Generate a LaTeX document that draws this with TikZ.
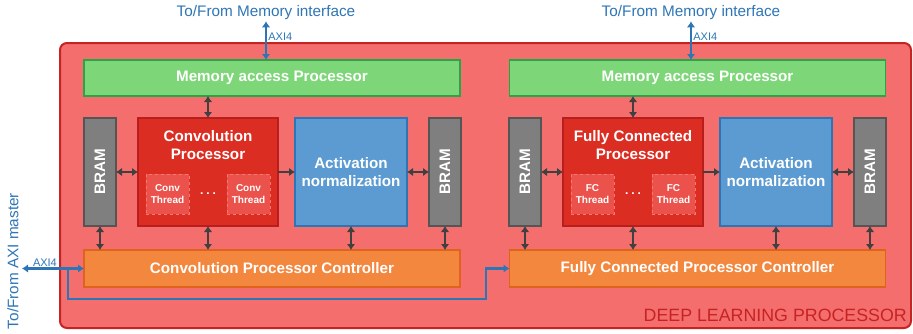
\documentclass[tikz,border=0pt]{standalone}
\usepackage{fontspec}
\setmainfont{Liberation Sans}
\usetikzlibrary{arrows.meta,positioning,calc}

\definecolor{dlpfill}{RGB}{244,110,110}
\definecolor{dlpline}{RGB}{200,35,35}
\definecolor{memfill}{RGB}{125,215,120}
\definecolor{memline}{RGB}{40,165,70}
\definecolor{bramfill}{RGB}{127,127,127}
\definecolor{bramline}{RGB}{85,85,85}
\definecolor{procfill}{RGB}{220,45,35}
\definecolor{procline}{RGB}{185,30,30}
\definecolor{thrfill}{RGB}{235,82,76}
\definecolor{thrline}{RGB}{248,120,115}
\definecolor{actfill}{RGB}{91,155,210}
\definecolor{actline}{RGB}{46,117,182}
\definecolor{ctrlfill}{RGB}{244,135,62}
\definecolor{ctrlline}{RGB}{222,100,30}
\definecolor{axiblue}{RGB}{46,117,182}
\definecolor{linkgray}{RGB}{64,64,64}

\tikzset{
  box/.style={draw, line width=1.6pt, inner sep=0pt, outer sep=0pt, text=white,
    font=\fontsize{15.2}{18}\selectfont\bfseries, align=center},
  mem/.style={box, fill=memfill, draw=memline, minimum width=376pt, minimum height=36pt},
  bram/.style={box, fill=bramfill, draw=bramline, minimum width=32pt, minimum height=108pt},
  proc/.style={box, fill=procfill, draw=procline, minimum width=140pt, minimum height=108pt},
  act/.style={box, fill=actfill, draw=actline, minimum width=112pt, minimum height=108pt},
  ctrl/.style={box, fill=ctrlfill, draw=ctrlline, minimum width=376pt, minimum height=37pt},
  thread/.style={box, fill=thrfill, draw=thrline, dashed, line width=0.9pt,
    minimum width=43pt, minimum height=40pt, font=\fontsize{10}{12.5}\selectfont\bfseries},
  ptitle/.style={text=white, inner sep=0pt, align=center,
    font=\fontsize{15.2}{18}\selectfont\bfseries},
  dots/.style={text=white, inner sep=0pt, font=\fontsize{12}{14}\selectfont\bfseries},
  link/.style={draw=linkgray, line width=2.8pt,
    {Latex[length=6pt,width=8.5pt]}-{Latex[length=6pt,width=8.5pt]}},
  axi/.style={draw=axiblue, line width=2.8pt,
    {Latex[length=6pt,width=8.5pt]}-{Latex[length=6pt,width=8.5pt]}},
  axitext/.style={text=axiblue, inner sep=1pt, font=\fontsize{15.3}{17}\selectfont},
  axismall/.style={text=axiblue, inner sep=1pt, font=\fontsize{11}{13}\selectfont},
}

\begin{document}
\begin{tikzpicture}[x=1pt, y=-1pt]
  \useasboundingbox (0,0) rectangle (913,333);

  % deep learning processor
  \node[draw=dlpline, fill=dlpfill, line width=2pt, rounded corners=7pt,
        minimum width=851pt, minimum height=285pt] (dlp) at (485.5,185.5) {};
  \node[above left=7pt and 5pt of dlp.south east, inner sep=0pt, text=dlpline,
        font=\fontsize{17.8}{20}\selectfont] (dlplabel) {DEEP LEARNING PROCESSOR};

  % convolution part
  \node[mem] (memL) at (272,78) {Memory access Processor};
  \node[bram] (bramL) at (100,172) {\rotatebox{90}{BRAM}};
  \node[proc, right=22pt of bramL] (convL) {};
  \node[ptitle, below=12pt of convL.north] (convLt) {Convolution\\Processor};
  \node[thread, above right=12pt and 8pt of convL.south west] (thL1) {Conv\\Thread};
  \node[thread, above left=12pt and 8pt of convL.south east] (thL2) {Conv\\Thread};
  \node[dots] (dotsL) at ($(thL1.east)!0.5!(thL2.west)$) {.\hspace{3pt}.\hspace{3pt}.};
  \node[act, right=17pt of convL] (actL) {Activation\\normalization};
  \node[bram, right=22pt of actL] (bramL2) {\rotatebox{90}{BRAM}};
  \node[ctrl] (ctrlL) at (272,268.5) {Convolution Processor Controller};

  % fully connected part
  \node[mem] (memR) at (697.5,78) {Memory access Processor};
  \node[bram] (bramR) at (525,172) {\rotatebox{90}{BRAM}};
  \node[proc, right=22pt of bramR] (fcR) {};
  \node[ptitle, below=12pt of fcR.north] (fcRt) {Fully Connected\\Processor};
  \node[thread, above right=12pt and 8pt of fcR.south west] (thR1) {FC\\Thread};
  \node[thread, above left=12pt and 8pt of fcR.south east] (thR2) {FC\\Thread};
  \node[dots] (dotsR) at ($(thR1.east)!0.5!(thR2.west)$) {.\hspace{3pt}.\hspace{3pt}.};
  \node[act, right=17pt of fcR] (actR) {Activation\\normalization};
  \node[bram, right=22pt of actR] (bramR2) {\rotatebox{90}{BRAM}};
  \node[ctrl] (ctrlR) at (697.5,268.5) {Fully Connected Processor Controller};

  % internal links
  \draw[link] (convL.north) -- (convL.north |- memL.south);
  \draw[link] (fcR.north) -- (fcR.north |- memR.south);
  \foreach \a/\b in {bramL/convL, actL/bramL2, bramR/fcR, actR/bramR2}
    \draw[link] (\a.east) -- (\b.west);
  \draw[link, -{Latex[length=6pt,width=8.5pt]}] (convL.east) -- (actL.west);
  \draw[link, -{Latex[length=6pt,width=8.5pt]}] (fcR.east) -- (actR.west);
  \foreach \a in {bramL, convL, actL, bramL2}
    \draw[link] (\a.south) -- (\a.south |- ctrlL.north);
  \foreach \a in {bramR, fcR, actR, bramR2}
    \draw[link] (\a.south) -- (\a.south |- ctrlR.north);

  % AXI4 interfaces
  \node[axitext] (memifL) at (266,13) {To/From Memory interface};
  \node[axitext] (memifR) at (691,13) {To/From Memory interface};
  \draw[axi] (memifL.south) -- (memifL.south |- memL.north) node[pos=0.4, right, axismall] {AXI4};
  \draw[axi] (memifR.south) -- (memifR.south |- memR.north) node[pos=0.4, right, axismall] {AXI4};

  \node[axitext, rotate=90] (master) at (13,261) {To/From AXI master};
  \coordinate (masterend) at (22,268.5);
  \draw[axi] (masterend) -- (ctrlL.west) node[pos=0.37, above, axismall] {AXI4};
  \coordinate (tap) at (68,268.5);
  \draw[axi, -{Latex[length=6pt,width=8.5pt]}] (tap) |- (486,299) |- (ctrlR.west);
\end{tikzpicture}
\end{document}
